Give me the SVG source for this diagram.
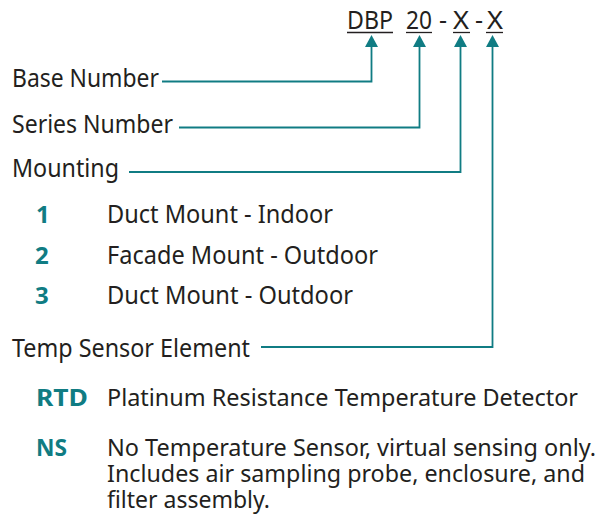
<svg xmlns="http://www.w3.org/2000/svg" width="602" height="514" viewBox="0 0 602 514">
<style>
.t{font-family:"Noto Sans","Open Sans",sans-serif;font-size:25px;fill:#231f20}
.s{font-size:23px}
.k{font-family:"Noto Sans","Open Sans",sans-serif;font-size:24px;font-weight:bold;fill:#107c83}
.c{fill:none;stroke:#107c83;stroke-width:1.8}
.u{stroke:#231f20;stroke-width:1.3}
.ah{fill:#107c83}
</style>
<rect width="602" height="514" fill="#fff"/>
<g id="header">
<text class="t" x="347" y="29" textLength="46" lengthAdjust="spacingAndGlyphs">DBP</text>
<text class="t" x="406" y="29" textLength="26" lengthAdjust="spacingAndGlyphs">20</text>
<text class="t" x="439" y="29">-</text>
<text class="t" x="453" y="29" textLength="16" lengthAdjust="spacingAndGlyphs">X</text>
<text class="t" x="475" y="29">-</text>
<text class="t" x="487" y="29" textLength="16" lengthAdjust="spacingAndGlyphs">X</text>
<line class="u" x1="347" y1="32.5" x2="393" y2="32.5"/>
<line class="u" x1="406" y1="32.5" x2="432" y2="32.5"/>
<line class="u" x1="453" y1="32.5" x2="470" y2="32.5"/>
<line class="u" x1="486" y1="32.5" x2="503" y2="32.5"/>
</g>
<g id="connectors">
<path class="c" d="M162,81.5 H371.5 V47"/>
<path class="c" d="M179,127.5 H419.5 V47"/>
<path class="c" d="M129,172 H460.5 V47"/>
<path class="c" d="M261,347 H492.5 V47"/>
<path class="ah" d="M365,47 L371.5,35 L378,47 Z"/>
<path class="ah" d="M413,47 L419.5,35 L426,47 Z"/>
<path class="ah" d="M454,47 L460.5,35 L467,47 Z"/>
<path class="ah" d="M486,47 L492.5,35 L499,47 Z"/>
</g>
<g id="base-number"><text class="t" x="12" y="87" textLength="147" lengthAdjust="spacingAndGlyphs">Base Number</text></g>
<g id="series-number"><text class="t" x="12" y="133" textLength="161" lengthAdjust="spacingAndGlyphs">Series Number</text></g>
<g id="mounting">
<text class="t" x="12" y="177" textLength="107" lengthAdjust="spacingAndGlyphs">Mounting</text>
<text class="k" x="36" y="223">1</text>
<text class="t" x="107" y="223" textLength="226" lengthAdjust="spacingAndGlyphs">Duct Mount - Indoor</text>
<text class="k" x="35" y="264">2</text>
<text class="t" x="107" y="264" textLength="271" lengthAdjust="spacingAndGlyphs">Facade Mount - Outdoor</text>
<text class="k" x="35" y="304">3</text>
<text class="t" x="107" y="304" textLength="246" lengthAdjust="spacingAndGlyphs">Duct Mount - Outdoor</text>
</g>
<g id="temp-sensor">
<text class="t" x="12" y="357" textLength="238" lengthAdjust="spacingAndGlyphs">Temp Sensor Element</text>
<text class="k" x="36" y="406" textLength="52" lengthAdjust="spacingAndGlyphs">RTD</text>
<text class="t s" x="107" y="406" textLength="471" lengthAdjust="spacingAndGlyphs">Platinum Resistance Temperature Detector</text>
<text class="k" x="36" y="456" textLength="31" lengthAdjust="spacingAndGlyphs">NS</text>
<text class="t s" x="107" y="456" textLength="489" lengthAdjust="spacingAndGlyphs">No Temperature Sensor, virtual sensing only.</text>
<text class="t s" x="107" y="482" textLength="478" lengthAdjust="spacingAndGlyphs">Includes air sampling probe, enclosure, and</text>
<text class="t s" x="107" y="508" textLength="163" lengthAdjust="spacingAndGlyphs">filter assembly.</text>
</g>
</svg>
